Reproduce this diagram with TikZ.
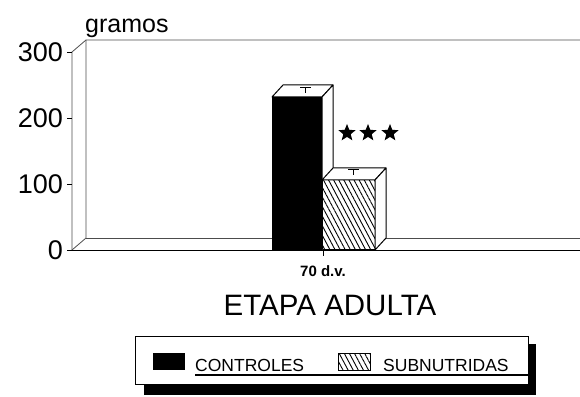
\documentclass[tikz,border=0pt]{standalone}
\usepackage{fontspec}
\setmainfont{Liberation Sans}
\usetikzlibrary{patterns.meta,shapes.geometric}

\tikzset{
  wall/.style={draw=black!70, line width=0.8pt},
  axistick/.style={draw=black, line width=0.8pt},
  barface/.style={draw=black, line width=1pt, line join=round},
  hatchfill/.style={pattern={Lines[angle=-62,distance=4.5pt,line width=0.9pt]}},
  ticklabel/.style={anchor=east, inner sep=0pt, font=\fontsize{27}{27}\selectfont},
  starmark/.style={star, star points=5, star point ratio=2.3, fill=black, minimum size=18pt, inner sep=0pt},
  legtext/.style={anchor=base west, inner sep=0pt, font=\fontsize{17.5}{17.5}\selectfont}
}

\begin{document}
\begin{tikzpicture}[x=1pt,y=1pt]
    \useasboundingbox (0,0) rectangle (580,396);
      %axes and back wall (1 gram = 0.66pt)
    \draw[wall] (72,146) -- (72,344) -- (86,356) -- (580,356);
    \draw[wall] (72,146) -- (86,158) -- (86,356);
    \draw[wall] (86,158) -- (580,158);
    \draw[axistick] (72,146) -- (580,146);
    \foreach \v in {0,100,200,300} {
      \draw[axistick] (67,146+\v*0.66) -- (72,146+\v*0.66);
      \node[ticklabel] (t\v) at (63,146+\v*0.66) {\v};
    }
    \node[anchor=base west, inner sep=0pt, font=\fontsize{25}{25}\selectfont] (units) at (85,363) {gramos};
    \draw[axistick] (323,146) -- (323,140);

      %controles: 232 g
    \fill[black] (272,146) rectangle (322,299);
    \draw[barface, fill=white] (272,299) -- (283,311) -- (333,311) -- (322,299) -- cycle;
    \draw[barface, fill=white] (322,146) -- (333,158) -- (333,311) -- (322,299) -- cycle;
    \draw[line width=1pt] (300,308) -- (311,308) (305.5,308) -- (305.5,303);

      %subnutridas: 106 g
    \fill[white] (322,146) rectangle (375,216);
    \draw[barface, hatchfill] (322,146) rectangle (375,216);
    \draw[barface, fill=white] (322,216) -- (333,228) -- (386,228) -- (375,216) -- cycle;
    \draw[barface, fill=white] (375,146) -- (386,158) -- (386,228) -- (375,216) -- cycle;
    \draw[line width=1pt] (348,226) -- (359,226) (353.5,226) -- (353.5,221);

    \node[starmark] (s1) at (347,263) {};
    \node[starmark] (s2) at (368,263) {};
    \node[starmark] (s3) at (390,263) {};

    \node[anchor=base, inner sep=0pt, font=\bfseries\fontsize{15}{15}\selectfont] (age) at (323,119) {70 d.v.};
    \node[anchor=base, inner sep=0pt, font=\fontsize{29.5}{29.5}\selectfont] (stage) at (330,81) {ETAPA ADULTA};

      %legend with its drop shadow
    \fill[black] (144,1) rectangle (536,52);
    \draw[fill=white, line width=0.8pt] (135,12) rectangle (528,60);
    \node[fill=black, minimum width=32pt, minimum height=17pt, inner sep=0pt] (swc) at (169,34.5) {};
    \node[legtext] (lc) at (195,25) {CONTROLES};
    \node[draw, line width=0.6pt, hatchfill, minimum width=32pt, minimum height=17pt, inner sep=0pt] (sws) at (354,34.5) {};
    \node[legtext] (ls) at (383,25) {SUBNUTRIDAS};
    \draw[line width=1.2pt] (lc.base west) ++(0,-4) -- (528,21);
\end{tikzpicture}
\end{document}
